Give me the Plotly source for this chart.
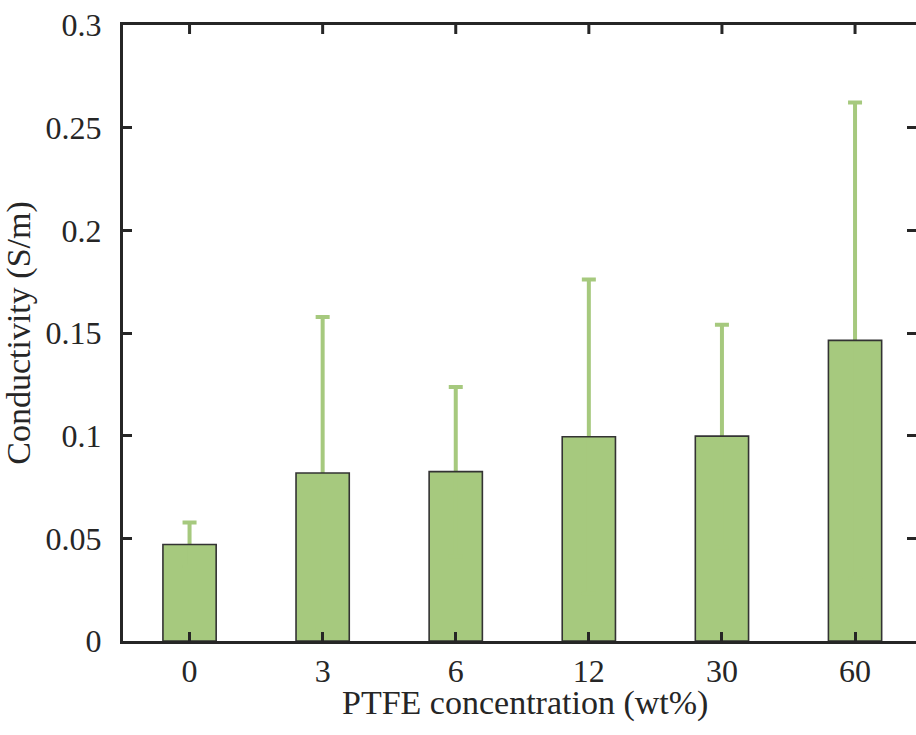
import plotly.graph_objects as go

# PTFE loading (wt%) and measured conductivity (S/m) with standard deviation
concentrations = ["0", "3", "6", "12", "30", "60"]
conductivity = [0.0470, 0.0818, 0.0825, 0.0995, 0.0998, 0.1464]
conductivity_sd = [0.0107, 0.0760, 0.0412, 0.0765, 0.0542, 0.1158]

y_tick_vals = [0, 0.05, 0.1, 0.15, 0.2, 0.25, 0.3]
y_tick_text = ["0", "0.05", "0.1", "0.15", "0.2", "0.25", "0.3"]

# evenly spaced slots, one per concentration
slots = list(range(len(concentrations)))

BAR_GREEN = "#a6c97e"
INK = "#262626"
TICK_FONT = dict(family="Liberation Serif", size=32, color=INK)
TITLE_FONT = dict(family="Liberation Serif", size=34, color=INK)
X_RANGE = [-0.5, 5.458]
PLOT_TOP, PLOT_BOTTOM = 25, 641.5
TICK_LEN = 9

fig = go.Figure()

# filled bars with symmetric error bars (lower half hides inside the bar)
fig.add_trace(go.Bar(
    x=slots,
    y=conductivity,
    width=0.4,
    marker=dict(color=BAR_GREEN, line=dict(width=0)),
    error_y=dict(type="data", array=conductivity_sd, symmetric=True,
                 color=BAR_GREEN, thickness=4, width=7),
    hoverinfo="skip",
    showlegend=False,
))

# bar outlines drawn on top of the error bars; on the right-hand axis
# so that its inward ticks are drawn too
fig.add_trace(go.Bar(
    x=slots,
    y=conductivity,
    yaxis="y2",
    width=0.4,
    marker=dict(color="rgba(0,0,0,0)", line=dict(color="#333333", width=1.6)),
    hoverinfo="skip",
    showlegend=False,
))

tick_style = dict(ticks="inside", ticklen=TICK_LEN, tickwidth=3, tickcolor=INK,
                  showgrid=False, zeroline=False)

# inward tick marks along the top frame, one per concentration slot
top_tick_depth = TICK_LEN / (PLOT_BOTTOM - PLOT_TOP)
top_ticks = [
    dict(type="line", xref="x", yref="paper",
         x0=s, x1=s, y0=1, y1=1 - top_tick_depth,
         line=dict(color=INK, width=3), layer="above")
    for s in slots
]

fig.update_layout(
    width=916,
    height=735,
    margin=dict(l=123, r=0, t=PLOT_TOP, b=735 - PLOT_BOTTOM),
    paper_bgcolor="white",
    plot_bgcolor="white",
    barmode="overlay",
    font=TICK_FONT,
    xaxis=dict(
        range=X_RANGE,
        tickmode="array",
        tickvals=slots,
        ticktext=concentrations,
        showline=True,
        linewidth=3,
        linecolor=INK,
        mirror=True,
        tickfont=TICK_FONT,
        ticklabelstandoff=0,
        **tick_style,
    ),
    yaxis=dict(
        range=[0, 0.3],
        tickvals=y_tick_vals,
        ticktext=y_tick_text,
        showline=True,
        linewidth=3,
        linecolor=INK,
        tickfont=TICK_FONT,
        ticklabelstandoff=12,
        title=dict(text="Conductivity (S/m)", font=TITLE_FONT, standoff=8),
        **tick_style,
    ),
    yaxis2=dict(
        overlaying="y",
        side="right",
        anchor="x",
        range=[0, 0.3],
        tickvals=y_tick_vals,
        showticklabels=False,
        showline=False,
        **tick_style,
    ),
    shapes=top_ticks,
    annotations=[dict(
        text="PTFE concentration (wt%)",
        xref="paper", yref="paper",
        x=0.507, y=-0.1,
        xanchor="center", yanchor="middle",
        showarrow=False,
        font=TITLE_FONT,
    )],
)

fig.write_html("out.html")
